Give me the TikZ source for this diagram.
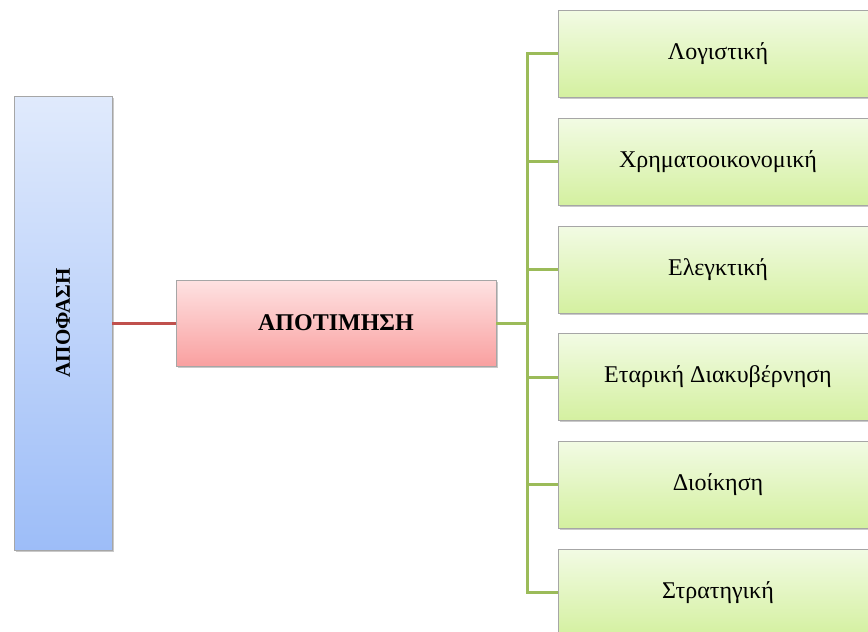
\documentclass[tikz,border=0pt]{standalone}
\usepackage{fontspec}
\setmainfont{Liberation Serif}
\usetikzlibrary{shadows}
\definecolor{redline}{HTML}{C0504D}
\definecolor{greenline}{HTML}{9BBB59}
\definecolor{boxborder}{HTML}{A6A6A6}
\definecolor{bluetop}{RGB}{224,234,252}
\definecolor{bluebot}{RGB}{157,189,248}
\definecolor{redtop}{RGB}{254,226,226}
\definecolor{redbot}{RGB}{249,160,160}
\definecolor{greentop}{RGB}{242,251,228}
\definecolor{greenbot}{RGB}{212,240,160}
\tikzset{
  basebox/.style={draw=boxborder, line width=0.8pt, inner sep=0pt,
    drop shadow={shadow xshift=1.5pt, shadow yshift=-1.5pt, opacity=0.35, fill=black!60}},
  bluebox/.style={basebox, top color=bluetop, bottom color=bluebot,
    minimum width=98pt, minimum height=454pt},
  redbox/.style={basebox, top color=redtop, bottom color=redbot,
    minimum width=320pt, minimum height=86pt},
  greenbox/.style={basebox, top color=greentop, bottom color=greenbot,
    minimum width=320pt, minimum height=87pt, font=\fontsize{24}{28}\selectfont},
  redconn/.style={draw=redline, line width=3pt},
  greenconn/.style={draw=greenline, line width=3pt}
}
\begin{document}
\begin{tikzpicture}[x=1pt,y=-1pt]
\useasboundingbox (0,0) rectangle (868,632);
\fill[white] (0,0) rectangle (868,632);
\clip (0,0) rectangle (868,632);
\node[bluebox] (apo) at (63,323) {};
\node[rotate=90, font=\bfseries\fontsize{21}{24}\selectfont] (apolabel) at (apo.center) {ΑΠΟΦΑΣΗ};
\node[redbox, font=\bfseries\fontsize{24}{28}\selectfont] (apot) at (336,323) {ΑΠΟΤΙΜΗΣΗ};
\node[greenbox] (g1) at (718,53.5) {Λογιστική};
\node[greenbox] (g2) at (718,161.5) {Χρηματοοικονομική};
\node[greenbox] (g3) at (718,269.5) {Ελεγκτική};
\node[greenbox] (g4) at (718,377) {Εταρική Διακυβέρνηση};
\node[greenbox] (g5) at (718,484.5) {Διοίκηση};
\node[greenbox] (g6) at (718,592.5) {Στρατηγική};
\draw[redconn] (apo.east) -- (apot.west);
\coordinate (bus) at (527,323);
\draw[greenconn] (apot.east) -- (bus);
\draw[greenconn, line join=miter] (g1.west) -- (g1.west -| bus) -- (g6.west -| bus) -- (g6.west);
\foreach \n in {g2,g3,g4,g5} {
  \draw[greenconn] (\n.west -| bus) -- (\n.west);
}
\end{tikzpicture}
\end{document}
